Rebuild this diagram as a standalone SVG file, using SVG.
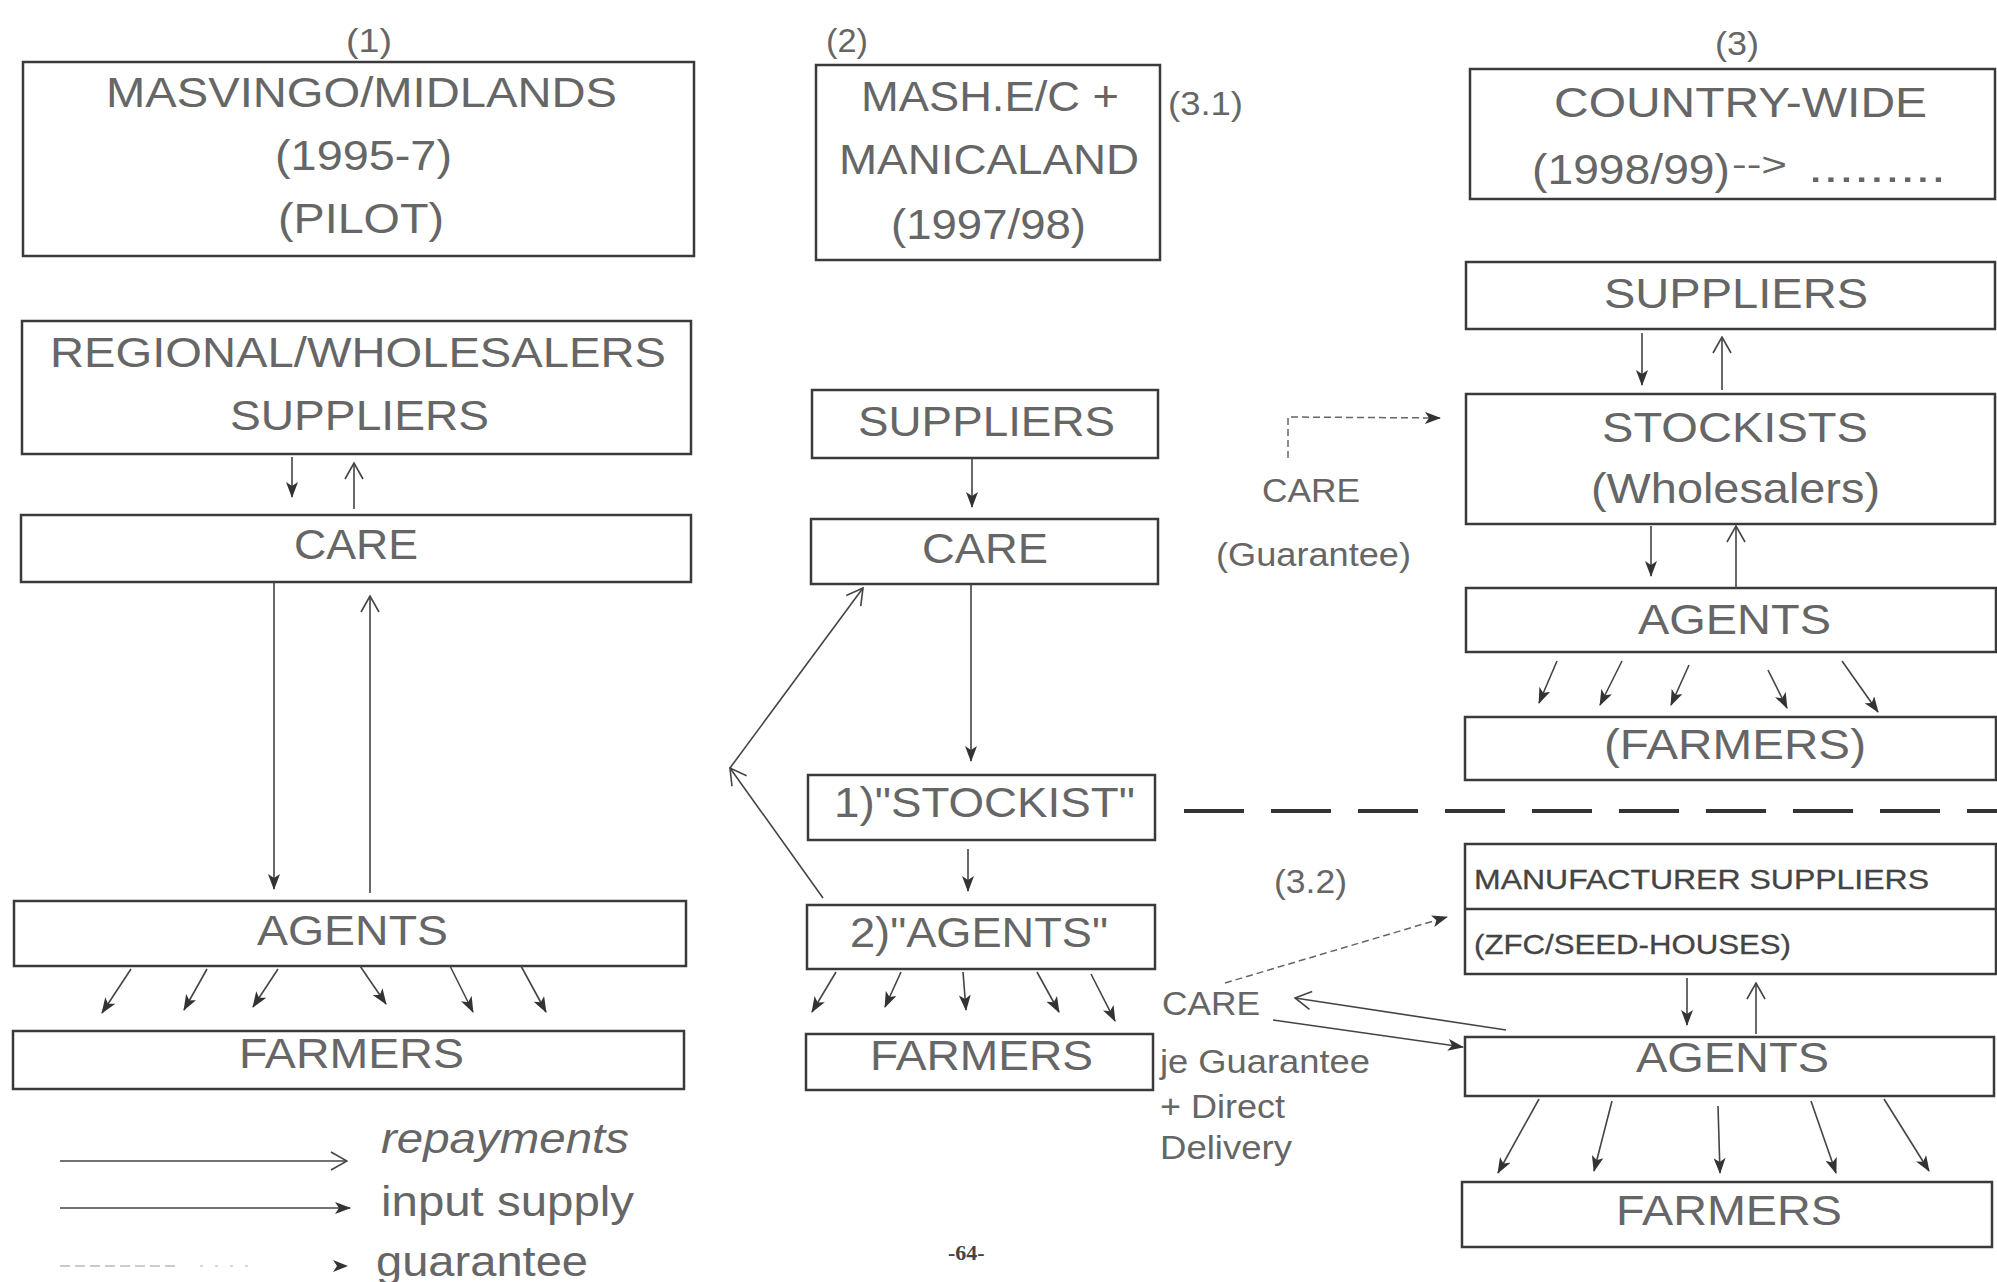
<svg xmlns="http://www.w3.org/2000/svg" width="1997" height="1282" viewBox="0 0 1997 1282">
<style>
.bx{fill:none;stroke:#3a3a3a;stroke-width:2.5}
.t{font-family:"Liberation Sans",Arial,sans-serif;font-size:43px;fill:#666}
.s{font-family:"Liberation Sans",Arial,sans-serif;font-size:33px;fill:#666}
.m{font-family:"Liberation Sans",Arial,sans-serif;font-size:28px;fill:#444;stroke:#444;stroke-width:0.3}
.ln{fill:none;stroke:#444;stroke-width:1.6}
.inp{marker-end:url(#fh)}
.rep{marker-end:url(#oh)}
.gua{fill:none;stroke:#666;stroke-width:1.5;stroke-dasharray:7 4;marker-end:url(#fh)}
</style>
<defs>
<marker id="fh" markerWidth="16" markerHeight="12" refX="15" refY="6" orient="auto" markerUnits="userSpaceOnUse"><path d="M0,0 L16,6 L0,12 L4,6 Z" fill="#333"/></marker>
<marker id="oh" markerWidth="18" markerHeight="20" refX="17" refY="10" orient="auto" markerUnits="userSpaceOnUse"><path d="M1,1 L17,10 L1,19" fill="none" stroke="#444" stroke-width="1.6"/></marker>
</defs>
<rect width="1997" height="1282" fill="#fff"/>

<g id="labels">
<text class="s" x="346" y="52" textLength="46" lengthAdjust="spacingAndGlyphs">(1)</text>
<text class="s" x="826" y="52" textLength="42" lengthAdjust="spacingAndGlyphs">(2)</text>
<text class="s" x="1715" y="55" textLength="44" lengthAdjust="spacingAndGlyphs">(3)</text>
<text class="s" x="1168" y="115" textLength="75" lengthAdjust="spacingAndGlyphs">(3.1)</text>
<text class="s" x="1274" y="893" textLength="73" lengthAdjust="spacingAndGlyphs">(3.2)</text>
<text class="s" x="1262" y="502" textLength="98" lengthAdjust="spacingAndGlyphs">CARE</text>
<text class="s" x="1216" y="566" textLength="195" lengthAdjust="spacingAndGlyphs">(Guarantee)</text>
<text class="s" x="1162" y="1015" textLength="98" lengthAdjust="spacingAndGlyphs">CARE</text>
<text class="s" x="1160" y="1073" textLength="210" lengthAdjust="spacingAndGlyphs">je Guarantee</text>
<text class="s" x="1160" y="1118" textLength="125" lengthAdjust="spacingAndGlyphs">+ Direct</text>
<text class="s" x="1160" y="1159" textLength="132" lengthAdjust="spacingAndGlyphs">Delivery</text>
<text x="948" y="1260" font-family="Liberation Serif,serif" font-size="22" font-weight="bold" fill="#444">-64-</text>
</g>

<g id="legend">
<line class="ln rep" x1="60" y1="1161" x2="347" y2="1161"/>
<line class="ln inp" x1="60" y1="1208" x2="350" y2="1208"/>
<line x1="60" y1="1266" x2="175" y2="1266" stroke="#bbb" stroke-width="1.5" stroke-dasharray="10 5"/>
<line x1="200" y1="1266" x2="260" y2="1266" stroke="#ccc" stroke-width="1.5" stroke-dasharray="3 12"/>
<path d="M333,1260 L348,1266 L333,1272 L337,1266 Z" fill="#333"/>
<text class="t" x="381" y="1153" font-style="italic" textLength="248" lengthAdjust="spacingAndGlyphs">repayments</text>
<text class="t" x="381" y="1216" textLength="253" lengthAdjust="spacingAndGlyphs">input supply</text>
<text class="t" x="376" y="1276" textLength="212" lengthAdjust="spacingAndGlyphs">guarantee</text>
</g>

<g id="n1-title"><rect class="bx" x="23" y="62" width="671" height="194"/>
<text class="t" x="106" y="107" textLength="511" lengthAdjust="spacingAndGlyphs">MASVINGO/MIDLANDS</text>
<text class="t" x="275" y="170" textLength="177" lengthAdjust="spacingAndGlyphs">(1995-7)</text>
<text class="t" x="278" y="233" textLength="166" lengthAdjust="spacingAndGlyphs">(PILOT)</text></g>
<g id="n1-suppliers"><rect class="bx" x="22" y="321" width="669" height="133"/>
<text class="t" x="50" y="367" textLength="616" lengthAdjust="spacingAndGlyphs">REGIONAL/WHOLESALERS</text>
<text class="t" x="230" y="430" textLength="259" lengthAdjust="spacingAndGlyphs">SUPPLIERS</text></g>
<g id="n1-care"><rect class="bx" x="21" y="515" width="670" height="67"/>
<text class="t" x="294" y="559" textLength="124" lengthAdjust="spacingAndGlyphs">CARE</text></g>
<g id="n1-agents"><rect class="bx" x="14" y="901" width="672" height="65"/>
<text class="t" x="257" y="945" textLength="191" lengthAdjust="spacingAndGlyphs">AGENTS</text></g>
<g id="n1-farmers"><rect class="bx" x="13" y="1031" width="671" height="58"/>
<text class="t" x="239" y="1068" textLength="225" lengthAdjust="spacingAndGlyphs">FARMERS</text></g>

<g id="n2-title"><rect class="bx" x="816" y="65" width="344" height="195"/>
<text class="t" x="861" y="111" textLength="258" lengthAdjust="spacingAndGlyphs">MASH.E/C +</text>
<text class="t" x="839" y="174" textLength="300" lengthAdjust="spacingAndGlyphs">MANICALAND</text>
<text class="t" x="891" y="239" textLength="195" lengthAdjust="spacingAndGlyphs">(1997/98)</text></g>
<g id="n2-suppliers"><rect class="bx" x="812" y="390" width="346" height="68"/>
<text class="t" x="858" y="436" textLength="257" lengthAdjust="spacingAndGlyphs">SUPPLIERS</text></g>
<g id="n2-care"><rect class="bx" x="811" y="519" width="347" height="65"/>
<text class="t" x="922" y="563" textLength="126" lengthAdjust="spacingAndGlyphs">CARE</text></g>
<g id="n2-stockist"><rect class="bx" x="808" y="775" width="347" height="65"/>
<text class="t" x="834" y="817" textLength="301" lengthAdjust="spacingAndGlyphs">1)"STOCKIST"</text></g>
<g id="n2-agents"><rect class="bx" x="807" y="905" width="348" height="64"/>
<text class="t" x="850" y="947" textLength="258" lengthAdjust="spacingAndGlyphs">2)"AGENTS"</text></g>
<g id="n2-farmers"><rect class="bx" x="806" y="1034" width="347" height="56"/>
<text class="t" x="870" y="1070" textLength="223" lengthAdjust="spacingAndGlyphs">FARMERS</text></g>

<g id="n3-title"><rect class="bx" x="1470" y="69" width="525" height="130"/>
<text class="t" x="1554" y="117" textLength="373" lengthAdjust="spacingAndGlyphs">COUNTRY-WIDE</text>
<text class="t" x="1532" y="184" textLength="198" lengthAdjust="spacingAndGlyphs">(1998/99)</text>
<text class="s" x="1732" y="176" font-size="26" textLength="55" lengthAdjust="spacingAndGlyphs">--&gt;</text>
<text class="t" x="1808" y="182" textLength="138" lengthAdjust="spacingAndGlyphs" font-size="30">.........</text></g>
<g id="n3-suppliers"><rect class="bx" x="1466" y="262" width="529" height="67"/>
<text class="t" x="1604" y="308" textLength="264" lengthAdjust="spacingAndGlyphs">SUPPLIERS</text></g>
<g id="n3-stockists"><rect class="bx" x="1466" y="394" width="529" height="130"/>
<text class="t" x="1602" y="442" textLength="266" lengthAdjust="spacingAndGlyphs">STOCKISTS</text>
<text class="t" x="1591" y="503" textLength="289" lengthAdjust="spacingAndGlyphs">(Wholesalers)</text></g>
<g id="n3-agents"><rect class="bx" x="1466" y="588" width="530" height="64"/>
<text class="t" x="1638" y="634" textLength="193" lengthAdjust="spacingAndGlyphs">AGENTS</text></g>
<g id="n3-farmers"><rect class="bx" x="1465" y="717" width="531" height="63"/>
<text class="t" x="1604" y="759" textLength="262" lengthAdjust="spacingAndGlyphs">(FARMERS)</text></g>
<g id="n3-manufacturer"><rect class="bx" x="1465" y="844" width="531" height="130"/>
<line class="bx" x1="1465" y1="909" x2="1996" y2="909"/>
<text class="m" x="1474" y="889" textLength="455" lengthAdjust="spacingAndGlyphs">MANUFACTURER SUPPLIERS</text>
<text class="m" x="1474" y="954" textLength="317" lengthAdjust="spacingAndGlyphs">(ZFC/SEED-HOUSES)</text></g>
<g id="n3-agents2"><rect class="bx" x="1465" y="1037" width="529" height="59"/>
<text class="t" x="1636" y="1072" textLength="193" lengthAdjust="spacingAndGlyphs">AGENTS</text></g>
<g id="n3-farmers2"><rect class="bx" x="1462" y="1182" width="530" height="65"/>
<text class="t" x="1616" y="1225" textLength="226" lengthAdjust="spacingAndGlyphs">FARMERS</text></g>

<g id="connectors">
<line class="ln inp" x1="292" y1="457" x2="292" y2="497"/>
<line class="ln rep" x1="354" y1="509" x2="354" y2="463"/>
<line class="ln inp" x1="274" y1="582" x2="274" y2="889"/>
<line class="ln rep" x1="370" y1="893" x2="370" y2="596"/>
<line class="ln inp" x1="131" y1="969" x2="102" y2="1013"/>
<line class="ln inp" x1="207" y1="969" x2="184" y2="1010"/>
<line class="ln inp" x1="278" y1="969" x2="253" y2="1007"/>
<line class="ln inp" x1="360" y1="966" x2="386" y2="1004"/>
<line class="ln inp" x1="450" y1="966" x2="473" y2="1012"/>
<line class="ln inp" x1="521" y1="966" x2="546" y2="1012"/>
<line class="ln inp" x1="972" y1="458" x2="972" y2="507"/>
<line class="ln inp" x1="971" y1="584" x2="971" y2="761"/>
<line class="ln inp" x1="968" y1="849" x2="968" y2="891"/>
<line class="ln rep" x1="823" y1="898" x2="730" y2="768"/>
<line class="ln rep" x1="730" y1="768" x2="863" y2="588"/>
<line class="ln inp" x1="836" y1="972" x2="812" y2="1012"/>
<line class="ln inp" x1="901" y1="972" x2="885" y2="1007"/>
<line class="ln inp" x1="963" y1="972" x2="966" y2="1010"/>
<line class="ln inp" x1="1037" y1="972" x2="1059" y2="1012"/>
<line class="ln inp" x1="1091" y1="974" x2="1115" y2="1021"/>
<polyline class="gua" points="1288,458 1288,417 1440,418"/>
<line x1="1184" y1="811" x2="1997" y2="811" stroke="#333" stroke-width="4" stroke-dasharray="60 27"/>
<line class="gua" x1="1225" y1="983" x2="1447" y2="917"/>
<line class="ln rep" x1="1506" y1="1030" x2="1295" y2="998"/>
<line class="ln inp" x1="1273" y1="1020" x2="1463" y2="1047"/>
<line class="ln inp" x1="1642" y1="333" x2="1642" y2="385"/>
<line class="ln rep" x1="1722" y1="390" x2="1722" y2="337"/>
<line class="ln inp" x1="1651" y1="526" x2="1651" y2="576"/>
<line class="ln rep" x1="1736" y1="589" x2="1736" y2="526"/>
<line class="ln inp" x1="1557" y1="661" x2="1539" y2="703"/>
<line class="ln inp" x1="1622" y1="661" x2="1600" y2="705"/>
<line class="ln inp" x1="1689" y1="665" x2="1671" y2="705"/>
<line class="ln inp" x1="1768" y1="670" x2="1787" y2="708"/>
<line class="ln inp" x1="1842" y1="661" x2="1878" y2="712"/>
<line class="ln inp" x1="1687" y1="978" x2="1687" y2="1025"/>
<line class="ln rep" x1="1756" y1="1034" x2="1756" y2="983"/>
<line class="ln inp" x1="1539" y1="1099" x2="1498" y2="1173"/>
<line class="ln inp" x1="1612" y1="1101" x2="1594" y2="1171"/>
<line class="ln inp" x1="1718" y1="1106" x2="1720" y2="1173"/>
<line class="ln inp" x1="1811" y1="1101" x2="1836" y2="1173"/>
<line class="ln inp" x1="1884" y1="1099" x2="1929" y2="1171"/>
</g>
</svg>
